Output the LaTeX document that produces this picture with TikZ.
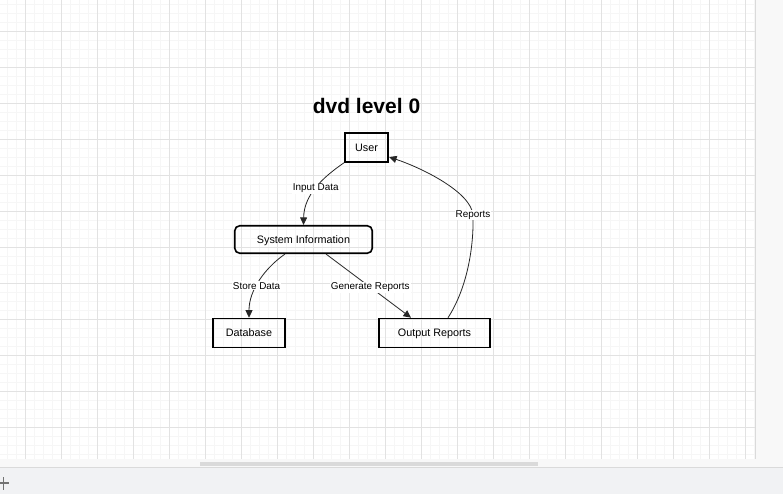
\documentclass[tikz,border=0pt]{standalone}
\usepackage{fontspec}
\setmainfont{Liberation Sans}
\usetikzlibrary{arrows.meta}

\definecolor{gridminor}{HTML}{F6F6F6}
\definecolor{gridmajor}{HTML}{E2E2E2}
\definecolor{panelgray}{HTML}{F8F8F8}
\definecolor{edgegray}{HTML}{DADADA}
\definecolor{bargray}{HTML}{F1F2F4}

\tikzset{
	procbox/.style={draw=black, line width=1.6pt, inner sep=0pt, text height=7.7pt, text depth=0pt, font=\fontsize{10.8}{12}\selectfont},
	flow/.style={line width=0.8pt, draw=black!85, -{Triangle[length=7.5pt,width=7pt]}},
	flowlabel/.style={fill=white, inner sep=1pt, font=\fontsize{9.9}{11}\selectfont}
}

\begin{document}
\begin{tikzpicture}[x=1pt, y=-1pt]
		%%%%% START %%%%%
		\useasboundingbox (0, 0) rectangle (783, 494);
		
		% canvas and grid
		\fill[white] (0, 0) rectangle (755, 459);
		\foreach \x in {7,16,...,754} \draw[gridminor, line width=1pt] (\x+0.5, 0) -- (\x+0.5, 459);
		\foreach \y in {4,13,...,458} \draw[gridminor, line width=1pt] (0, \y+0.5) -- (755, \y+0.5);
		\foreach \x in {25,61,...,745} \draw[gridmajor, line width=1pt] (\x+0.5, 0) -- (\x+0.5, 459);
		\foreach \y in {31,67,...,427} \draw[gridmajor, line width=1pt] (0, \y+0.5) -- (755, \y+0.5);
		
		% window chrome
		\fill[panelgray] (755, 0) rectangle (783, 467);
		\fill[panelgray] (0, 459) rectangle (755, 467);
		\draw[edgegray, line width=1pt] (755.5, 0) -- (755.5, 459);
		\fill[edgegray] (200, 462) rectangle (538, 465.5);
		\fill[bargray] (0, 467) rectangle (783, 494);
		\draw[edgegray, line width=1pt] (0, 467) -- (783, 467);
		\draw[black!55, line width=1.6pt] (0, 483) -- (9, 483);
		\draw[black!55, line width=1.6pt] (3.5, 477) -- (3.5, 490);
		
		% title
		\node[anchor=base, font=\bfseries\fontsize{21}{24}\selectfont] (title) at (366.5, 113.3) {dvd level 0};
		
		% processes and stores
		\node[procbox, minimum width=43.5pt, minimum height=29pt] (user) at (366.5, 147.5) {User};
		\node[procbox, rounded corners=5pt, minimum width=137.5pt, minimum height=27.5pt] (sysinfo) at (303.5, 239.5) {System Information};
		\node[procbox, minimum width=72.5pt, minimum height=29pt] (database) at (249, 333) {Database};
		\node[procbox, minimum width=111pt, minimum height=29pt] (outrep) at (434.5, 333) {Output Reports};
		
		% flows
		\coordinate (bend) at (473, 215);
		\draw[flow] (user.south west) .. controls (322, 178) and (304, 195) .. (sysinfo.north) node[flowlabel, pos=0.5] {Input Data};
		\draw[flow] ([xshift=-18.5pt]sysinfo.south) .. controls (265, 268) and (249, 290) .. (database.north) node[flowlabel, pos=0.58] {Store Data};
		\draw[flow] ([xshift=22.5pt]sysinfo.south) -- ([xshift=-23.5pt]outrep.north) node[flowlabel, pos=0.52] {Generate Reports};
		\draw[flow] ([xshift=13.5pt]outrep.north) .. controls (466, 290) and (474, 250) .. (bend) node[flowlabel] {Reports} .. controls (471, 192) and (422, 168) .. ([yshift=-9.5pt]user.east);
		
		%%%%% END %%%%%
	\end{tikzpicture}
\end{document}
